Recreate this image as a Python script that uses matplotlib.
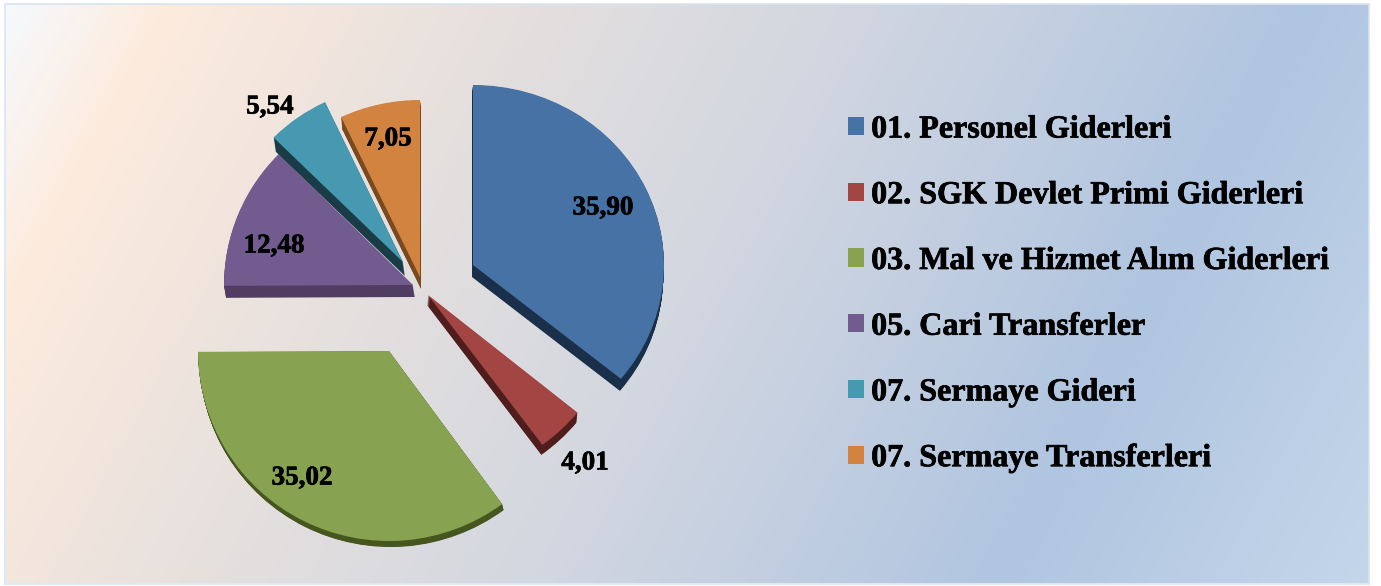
import numpy as np
import matplotlib
matplotlib.use('Agg')
import matplotlib.pyplot as plt
import matplotlib.patheffects as pe
from matplotlib.colors import LinearSegmentedColormap
from matplotlib.patches import Patch, Rectangle
from matplotlib.transforms import Affine2D

categories = ['01. Personel Giderleri', '02. SGK Devlet Primi Giderleri',
	'03. Mal ve Hizmet Alım Giderleri', '05. Cari Transferler',
	'07. Sermaye Gideri', '07. Sermaye Transferleri']
values = [35.90, 4.01, 35.02, 12.48, 5.54, 7.05]
colors = ['#4672A5', '#A34643', '#87A250', '#725C8F', '#4699B0', '#D38340']
dark = ['#1A2F4A', '#4F1D1B', '#46561F', '#513C62', '#1A3C47', '#7A4A1E']

# placement of each exploded slice, in pixels (the chart fakes a 3d tilt)
apex = [(473, 265), (428, 295), (389, 351), (413, 285), (403, 262), (420, 277)]
radii = [(191, 180), (193, 186), (191, 190), (189, 186), (182, 177), (184, 177)]
depth = [(-1, 12), (-1, 10), (1.5, 6), (2, 12), (2, 14), (1, 12)]
label_pos = [(603, 208), (585, 463), (302, 478), (274, 246), (270, 107), (388, 139)]
order = [3, 4, 5, 0, 1, 2]

def place(wedge, i, t=0.0):
	rx, ry = radii[i]
	wedge.set_transform(Affine2D().scale(rx, -ry).translate(apex[i][0] + t * depth[i][0], apex[i][1] + t * depth[i][1]) + ax.transData)

def main():
	global ax
	plt.rcParams['font.family'] = ['Liberation Serif', 'DejaVu Serif']
	fig = plt.figure(figsize=(13.81, 5.86), dpi=100)
	ax = fig.add_axes([0, 0, 1, 1])

	# background plate with a diagonal gradient
	cmap = LinearSegmentedColormap.from_list('bg', [(0, '#F5FAFF'), (0.10, '#FDEBDD'), (0.30, '#E6E0DE'),
		(0.5, '#D3D7E0'), (0.78, '#B0C5E0'), (1, '#C4D6EA')])
	xx, yy = np.meshgrid(np.arange(6, 1369), np.arange(4, 583))
	grad = (xx + 0.54 * yy) / (1369 + 0.54 * 583)
	ax.imshow(grad, extent=(6, 1369, 583, 4), cmap=cmap, vmin=0, vmax=1, aspect='auto', zorder=0)
	ax.add_patch(Rectangle((5.5, 3.5), 1364, 580, fill=False, ec='#D8E4F2', lw=1.2, zorder=1))

	# side walls: dark copies stepped down from the depth offset
	z = 2
	for i in order:
		for t in np.linspace(1, 0.05, 16):
			side, _ = ax.pie(values, colors=dark, startangle=90, counterclock=False)
			for j, w in enumerate(side):
				if j == i:
					place(w, i, t)
					w.set_zorder(z)
				else:
					w.remove()
		top, _ = ax.pie(values, colors=colors, startangle=90, counterclock=False)
		for j, w in enumerate(top):
			if j == i:
				place(w, i)
				w.set_zorder(z + 1)
			else:
				w.remove()
		z += 2

	heavy = [pe.withStroke(linewidth=0.5, foreground='black')]
	for v, (x, y) in zip(values, label_pos):
		ax.text(x, y, f'{v:.2f}'.replace('.', ','), fontsize=19.5, fontweight='bold', color='black',
			ha='center', va='center', zorder=30, path_effects=heavy)

	handles = [Patch(facecolor=c, edgecolor='none') for c in colors]
	leg = ax.legend(handles, categories, loc='upper left', bbox_to_anchor=(848 / 1381, 1 - 115.5 / 586), frameon=False,
		prop={'family': 'Liberation Serif', 'weight': 'bold', 'size': 23.1}, handlelength=0.5, handleheight=0.5,
		handletextpad=0.22, labelspacing=1.145, borderpad=0, borderaxespad=0)
	for t in leg.get_texts():
		t.set_path_effects(heavy)

	ax.set_aspect('auto')
	ax.set_xlim(0, 1381)
	ax.set_ylim(586, 0)
	ax.axis('off')
	fig.savefig('out.png', dpi=100)

if __name__ == "__main__":
	main()
